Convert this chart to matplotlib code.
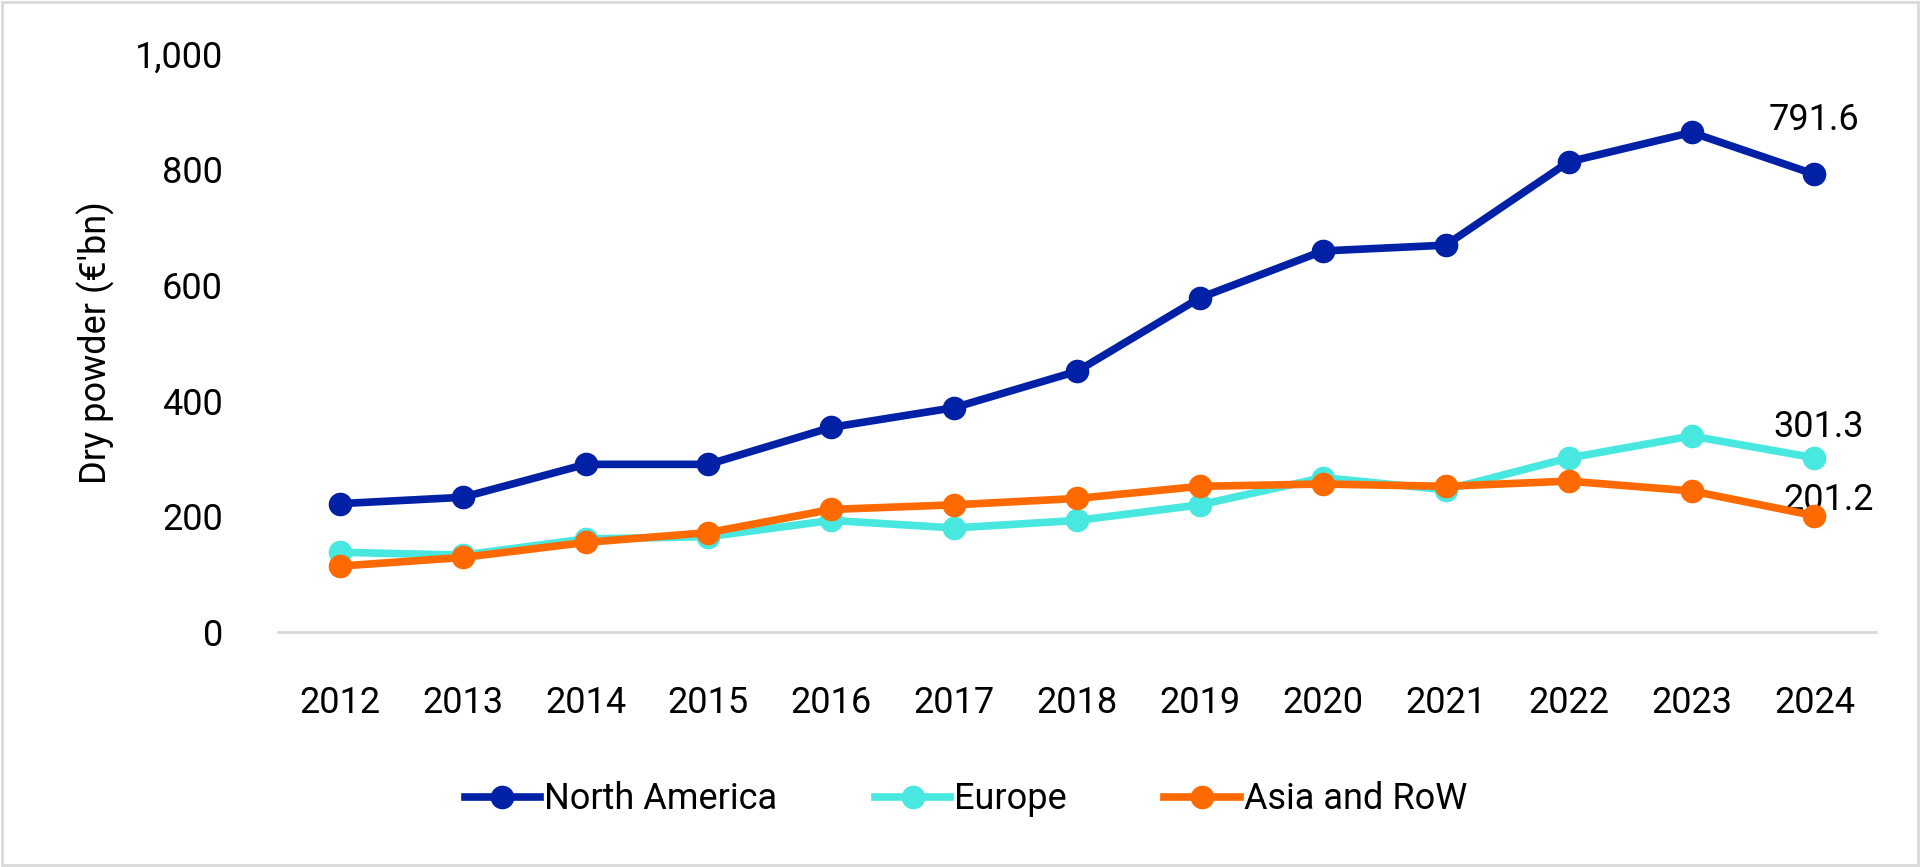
import matplotlib
matplotlib.use("Agg")
import matplotlib.pyplot as plt
from matplotlib.patches import Rectangle

years = ["2012", "2013", "2014", "2015", "2016", "2017", "2018",
         "2019", "2020", "2021", "2022", "2023", "2024"]
north_america = [222, 233, 290, 290, 354, 388, 451, 578, 659, 669, 813, 864, 791.6]
europe = [138, 133, 161, 165, 193, 180, 193, 220, 267, 246, 301, 339, 301.3]
asia_row = [114, 129, 155, 172, 212, 220, 231, 252, 256, 252, 261, 244, 201.2]
y_ticks = [0, 200, 400, 600, 800, 1000]

plt.rcParams['font.family'] = ['Roboto', 'DejaVu Sans']
fs = 26

fig = plt.figure(figsize=(19.2, 8.67), dpi=100)
ax = fig.add_axes([0.145, 0.271, 0.832, 0.667])

x = list(range(len(years)))
lw = 5.5
ms = 16
ax.plot(x, north_america, color="#0021A5", lw=lw, marker="o", ms=ms,
        label="North America", zorder=3)
ax.plot(x, europe, color="#48E8E0", lw=lw, marker="o", ms=ms,
        label="Europe", zorder=4)
ax.plot(x, asia_row, color="#FF6A00", lw=lw, marker="o", ms=ms,
        label="Asia and RoW", zorder=5)

# end labels
last = len(years) - 1
ax.annotate(f"{north_america[-1]:.1f}", (last, north_america[-1]), xytext=(0, 26),
            textcoords="offset points", ha="center", va="bottom", fontsize=fs)
ax.annotate(f"{europe[-1]:.1f}", (last, europe[-1]), xytext=(3, 9),
            textcoords="offset points", ha="center", va="bottom", fontsize=fs)
ax.annotate(f"{asia_row[-1]:.1f}", (last, asia_row[-1]), xytext=(10, -2),
            textcoords="offset points", ha="center", va="bottom", fontsize=fs)

ax.set_xlim(-0.5, 12.5)
ax.set_ylim(0, 1000)
ax.set_xticks(x)
ax.set_xticklabels(years, fontsize=fs)
ax.set_yticks(y_ticks)
ax.set_yticklabels([f"{v:,}" for v in y_ticks], fontsize=fs)
ax.tick_params(axis="x", length=0, pad=38)
ax.tick_params(axis="y", length=0, pad=40)
for s in ["top", "right", "left"]:
    ax.spines[s].set_visible(False)
ax.spines["bottom"].set_color("#D9D9D9")
ax.spines["bottom"].set_linewidth(2)
ax.set_ylabel("Dry powder (€'bn)", fontsize=fs, labelpad=14)
for line in ax.lines:
    line.set_clip_on(False)

leg = fig.legend(loc="center", bbox_to_anchor=(0.503, 0.078), ncol=3, frameon=False,
                 fontsize=fs, handlelength=2.1, handletextpad=0.1, columnspacing=2.7)

# outer border
fig.patches.append(Rectangle((0.001, 0.002), 0.998, 0.996, transform=fig.transFigure,
                             fill=False, edgecolor="#D9D9D9", lw=2))

fig.savefig("out.png", dpi=100)
